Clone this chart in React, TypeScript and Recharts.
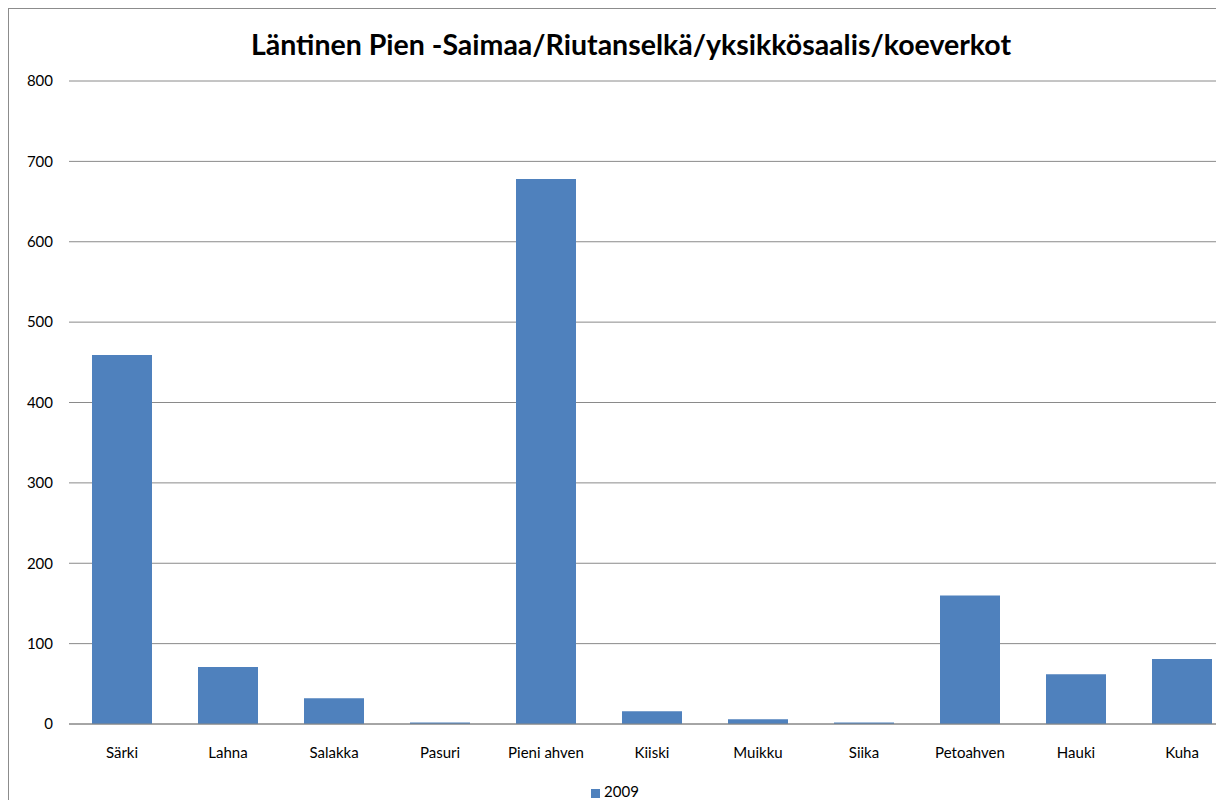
import React from 'react';
import { BarChart, Bar, XAxis, YAxis, CartesianGrid, Legend } from 'recharts';

// Läntinen Pien-Saimaa, Riutanselkä – yksikkösaalis koeverkoilla
const species = ['Särki', 'Lahna', 'Salakka', 'Pasuri', 'Pieni ahven', 'Kiiski', 'Muikku', 'Siika', 'Petoahven', 'Hauki', 'Kuha'];
const catch2009 = [459, 71, 32, 2, 678, 16, 6, 2, 160, 62, 81];
const yTicks = [0, 100, 200, 300, 400, 500, 600, 700, 800];

const data = species.map((name, i) => ({ name, v2009: catch2009[i] }));

const FONT = 'Lato, "Open Sans", sans-serif';

const App: React.FC = () => {
  return (
    <div style={{ position: 'fixed', left: 8, top: 8, width: 1208, height: 792, overflow: 'hidden', background: '#fff' }}>
      <div style={{ position: 'relative', width: 1244, height: 830, border: '1px solid #8c8c8c', boxSizing: 'border-box' }}>
        <div
          style={{
            position: 'absolute',
            top: 18,
            left: 0,
            width: 1244,
            textAlign: 'center',
            fontFamily: FONT,
            fontWeight: 700,
            fontSize: 28.5,
            color: '#000',
          }}
        >
          Läntinen Pien -Saimaa/Riutanselkä/yksikkösaalis/koeverkot
        </div>
        <BarChart
          width={1236}
          height={828}
          data={data}
          margin={{ top: 72, right: 10, left: 0, bottom: 45 }}
          barSize={60}
        >
          <CartesianGrid vertical={false} stroke="#8a8a8a" />
          <XAxis
            dataKey="name"
            tickLine={false}
            axisLine={{ stroke: '#868686' }}
            tickSize={0}
            tickMargin={23}
            height={50}
            tick={{ fill: '#000', fontSize: 15, fontFamily: FONT }}
          />
          <YAxis
            width={60}
            domain={[0, 800]}
            ticks={yTicks}
            axisLine={false}
            tickLine={false}
            tickSize={0}
            tickMargin={16}
            tick={{ fill: '#000', fontSize: 15, fontFamily: FONT }}
          />
          <Legend
            verticalAlign="bottom"
            iconType="square"
            iconSize={9}
            wrapperStyle={{ top: 773, left: 0, width: 1222, fontFamily: FONT, fontSize: 15 }}
            formatter={(value) => <span style={{ color: '#000' }}>{value}</span>}
          />
          <Bar dataKey="v2009" name="2009" fill="#4F81BD" isAnimationActive={false} />
        </BarChart>
      </div>
    </div>
  );
};

export default App;
